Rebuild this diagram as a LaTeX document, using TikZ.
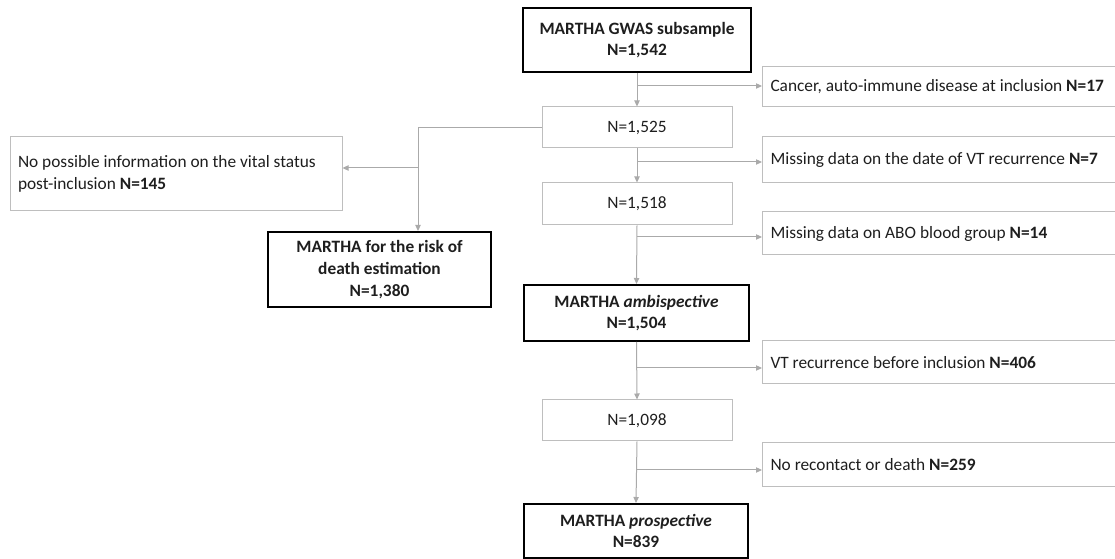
\documentclass[tikz,border=0pt]{standalone}
\usepackage{fontspec}
\setmainfont{Carlito}
\usetikzlibrary{arrows.meta,calc}
\definecolor{linegray}{RGB}{170,170,170}
\definecolor{boxgray}{RGB}{190,190,190}
\definecolor{txt}{RGB}{30,30,30}
\tikzset{
  every node/.style={font=\fontsize{13}{16.2}\selectfont, text=txt},
  mainbox/.style={draw=black, line width=1.5pt, align=center, inner sep=0pt, font=\fontsize{13}{16.2}\selectfont\bfseries},
  nbox/.style={draw=boxgray, line width=0.75pt, align=center, inner sep=0pt, minimum width=142.5pt},
  sidebox/.style={draw=boxgray, line width=0.75pt, anchor=west, align=flush left, inner xsep=6pt, inner ysep=0pt, text width=256.5pt, minimum width=268.5pt},
  conn/.style={draw=linegray, line width=0.75pt},
  arr/.style={conn, -{Triangle[length=4.5pt,width=4pt]}}
}
\begin{document}
\begin{tikzpicture}[x=0.75pt,y=-0.75pt]
\useasboundingbox (0,0) rectangle (1115,559);
% main column
\node[mainbox, minimum width=171pt, minimum height=48pt] (top) at (637,40) {MARTHA GWAS subsample\\N=1,542};
\node[nbox, minimum height=30.75pt] (n1525) at (637,127.5) {N=1,525};
\node[nbox, minimum height=31.5pt] (n1518) at (637,204) {N=1,518};
\node[mainbox, minimum width=168.75pt, minimum height=42pt] (ambi) at (636.5,313) {MARTHA \textit{ambispective}\\N=1,504};
\node[nbox, minimum height=30.75pt] (n1098) at (637,420.5) {N=1,098};
\node[mainbox, minimum width=168pt, minimum height=40.5pt] (prosp) at (636,531) {MARTHA \textit{prospective}\\N=839};
% left side
\node[draw=boxgray, line width=0.75pt, align=flush left, inner xsep=6pt, inner ysep=0pt, text width=237pt, minimum height=55.5pt] (noposs) at (176,174) {No possible information on the vital status\\post-inclusion \textbf{N=145}};
\node[mainbox, minimum width=167.25pt, minimum height=56.25pt] (death) at (379.5,269.5) {MARTHA for the risk of\\death estimation\\N=1,380};
% right side boxes
\node[sidebox, minimum height=30pt] (cancer) at (762,87) {\mbox{Cancer, auto-immune disease at inclusion \textbf{N=17}}};
\node[sidebox, minimum height=34.5pt] (missvt) at (762,160) {\mbox{Missing data on the date of VT recurrence \textbf{N=7}}};
\node[sidebox, minimum height=32.25pt] (missabo) at (762,233.5) {Missing data on ABO blood group \textbf{N=14}};
\node[sidebox, minimum height=32.25pt] (vtrec) at (762,362.5) {VT recurrence before inclusion \textbf{N=406}};
\node[sidebox, minimum height=33pt] (norec) at (762,465) {No recontact or death \textbf{N=259}};
% branch points
\coordinate (b1) at (637,86);
\coordinate (b2) at (637,162);
\coordinate (b3) at (637,237);
\coordinate (b4) at (637,368);
\coordinate (b5) at (637,470);
\coordinate (c1) at (418,127.5);
\coordinate (c2) at (418,168);
% vertical flow
\draw[arr] (top.south) -- (n1525.north);
\draw[arr] (n1525.south) -- (n1518.north);
\draw[arr] (n1518.south) -- (ambi.north);
\draw[arr] (ambi.south) -- (n1098.north);
\draw[arr] (n1098.south) -- (prosp.north);
% exclusions to the right
\draw[arr] (b1) -- (b1 -| cancer.west);
\draw[arr] (b2) -- (b2 -| missvt.west);
\draw[arr] (b3) -- (b3 -| missabo.west);
\draw[arr] (b4) -- (b4 -| vtrec.west);
\draw[arr] (b5) -- (b5 -| norec.west);
% left branch
\draw[conn] (n1525.west) -- (c1);
\draw[arr] (c1) -- (c1 |- death.north);
\draw[arr] (c2) -- (c2 -| noposs.east);
\end{tikzpicture}
\end{document}
